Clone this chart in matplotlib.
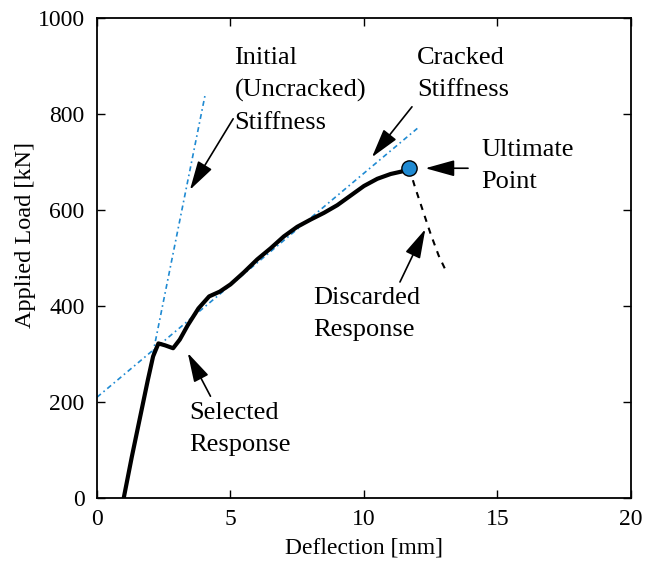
import numpy as np
import matplotlib
matplotlib.use('Agg')
import matplotlib.pyplot as plt

plt.rcParams['font.family'] = ['Liberation Serif', 'DejaVu Serif']

# selected response (deflection mm, load kN)
sel_x = [1.0, 1.3, 1.6, 1.9, 2.1, 2.3, 2.55, 2.85, 3.1, 3.4, 3.8, 4.2, 4.6, 5.0, 5.5,
         6.0, 6.5, 7.0, 7.5, 8.0, 8.5, 9.0, 9.5, 10.0, 10.5, 11.0, 11.4, 11.7]
sel_y = [0, 85, 165, 245, 295, 322, 318, 312, 330, 360, 395, 420, 430, 445, 470,
         497, 520, 545, 565, 580, 594, 610, 630, 650, 665, 675, 680, 687]

# discarded response
dis_x = [11.7, 11.9, 12.2, 12.5, 12.8, 13.1]
dis_y = [687, 650, 600, 550, 505, 470]

# ultimate point
ult_x = 11.7
ult_y = 687

# stiffness lines
init_x = [1.0, 4.05]
init_y = [0, 840]
crack_x = [0, 12.0]
crack_y = [210, 770]

blue = '#1f8ad2'

fig = plt.figure(figsize=(6.47, 5.63), dpi=100)
ax = fig.add_axes([0.150, 0.1155, 0.825, 0.8525])

ax.plot(init_x, init_y, color=blue, lw=1.2, ls=(0, (3, 2, 1, 2)))
ax.plot(crack_x, crack_y, color=blue, lw=1.2, ls=(0, (3, 2, 1, 2)))
ax.plot(sel_x, sel_y, color='black', lw=3, solid_capstyle='round')
ax.plot(dis_x, dis_y, color='black', lw=1.5, ls=(0, (3, 3)))
ax.plot(ult_x, ult_y, 'o', ms=11, mfc=blue, mec='black', mew=1)

fs = 19
ls = 1.58
ax.text(5.15, 940, 'Initial\n(Uncracked)\nStiffness', fontsize=fs, va='top', ha='left', linespacing=ls)
ax.text(12.0, 940, 'Cracked\nStiffness', fontsize=fs, va='top', ha='left', linespacing=ls)
ax.text(14.4, 747, 'Ultimate\nPoint', fontsize=fs, va='top', ha='left', linespacing=ls)
ax.text(8.1, 440, 'Discarded\nResponse', fontsize=fs, va='top', ha='left', linespacing=ls)
ax.text(3.45, 200, 'Selected\nResponse', fontsize=fs, va='top', ha='left', linespacing=ls)

arrow = dict(arrowstyle='-|>,head_length=0.9,head_width=0.25', color='black', lw=1.2,
             mutation_scale=20, shrinkA=0, shrinkB=0)
ax.annotate('', xy=(3.48, 642), xytext=(5.1, 790), arrowprops=arrow)
ax.annotate('', xy=(10.3, 710), xytext=(11.8, 815), arrowprops=arrow)
ax.annotate('', xy=(12.3, 687), xytext=(13.9, 687), arrowprops=arrow)
ax.annotate('', xy=(12.3, 560), xytext=(11.35, 450), arrowprops=arrow)
ax.annotate('', xy=(3.4, 302), xytext=(4.25, 212), arrowprops=arrow)

ax.set_xlim(0, 20)
ax.set_ylim(0, 1000)
ax.set_xticks([0, 5, 10, 15, 20])
ax.set_yticks([0, 200, 400, 600, 800, 1000])
ax.tick_params(direction='in', top=True, right=True, labelsize=17, length=6, width=1)
ax.tick_params(axis='x', pad=8)
ax.tick_params(axis='y', pad=9)
for s in ax.spines.values():
    s.set_linewidth(1.3)
ax.set_xlabel('Deflection [mm]', fontsize=17)
ax.set_ylabel('Applied Load [kN]', fontsize=17.5)
ax.xaxis.set_label_coords(0.5, -0.082)
ax.yaxis.set_label_coords(-0.115, 0.548)

fig.savefig('out.png', dpi=100)
